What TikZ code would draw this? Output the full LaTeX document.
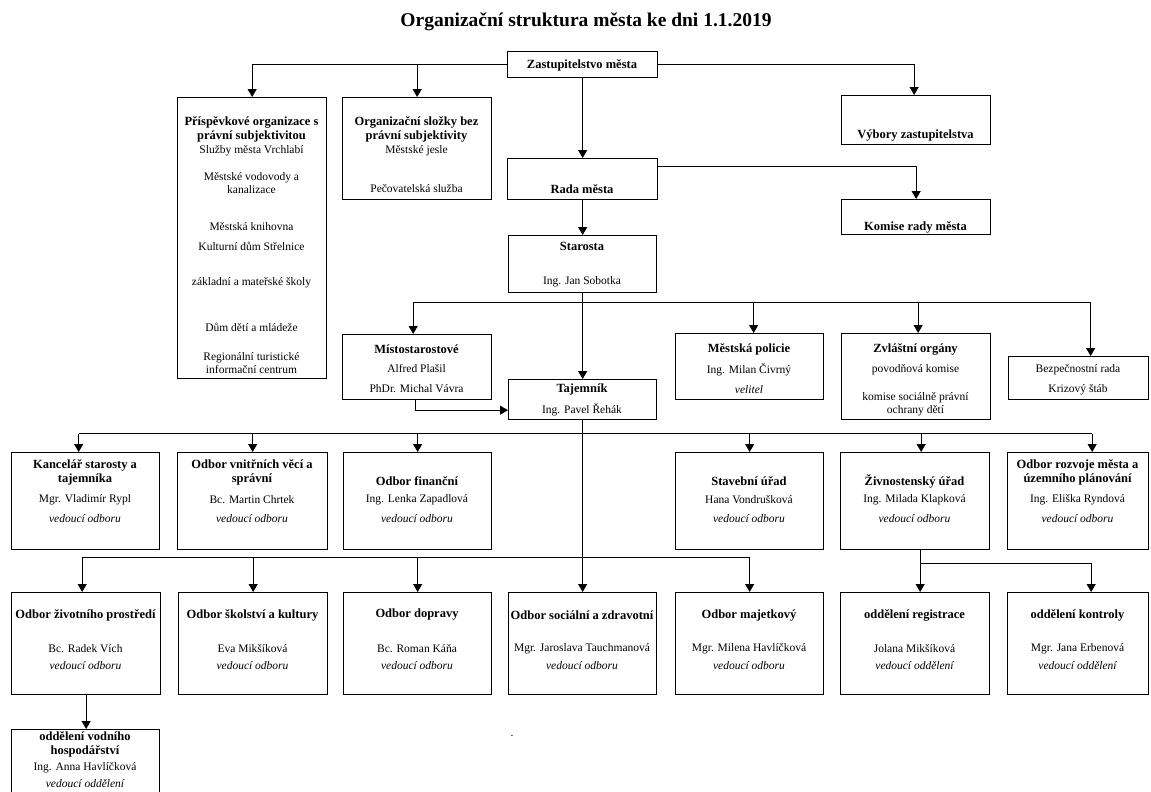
\documentclass[tikz,border=0pt]{standalone}
\usepackage{fontspec}
\setmainfont{Liberation Serif}
\usetikzlibrary{arrows.meta}
\tikzset{
  box/.style={draw, line width=1.3pt, anchor=north west, inner sep=0pt},
  ln/.style={line width=1.1pt},
  arr/.style={line width=1.1pt, -{Triangle[length=8pt,width=9pt]}},
  hd/.style={font=\fontsize{12.5}{14}\selectfont\bfseries, align=center, inner sep=0pt},
  tx/.style={font=\fontsize{11.5}{13}\selectfont, align=center, inner sep=0pt},
  it/.style={font=\fontsize{11.5}{13}\selectfont\itshape, align=center, inner sep=0pt},
  ttl/.style={font=\fontsize{19.5}{22}\selectfont\bfseries, inner sep=0pt},
}
\begin{document}
\begin{tikzpicture}[x=1pt,y=-1pt]
\useasboundingbox (0,0) rectangle (1151,792);
\clip (0,0) rectangle (1151,792);
\fill[white] (0,0) rectangle (1151,792);

\node[ttl] (title) at (586,22) {Organizační struktura města ke dni 1.1.2019};

% boxes
\node[box, minimum width=150pt, minimum height=26pt] (zast) at (507,51) {};
\node[box, minimum width=149pt, minimum height=281pt] (prisp) at (177,97) {};
\node[box, minimum width=149pt, minimum height=102pt] (org) at (342,97) {};
\node[box, minimum width=149pt, minimum height=49pt] (vybory) at (841,95) {};
\node[box, minimum width=150pt, minimum height=41pt] (rada) at (507,158) {};
\node[box, minimum width=149pt, minimum height=35pt] (komise) at (841,199) {};
\node[box, minimum width=148pt, minimum height=57pt] (starosta) at (508,235) {};
\node[box, minimum width=149pt, minimum height=65pt] (misto) at (342,334) {};
\node[box, minimum width=148pt, minimum height=66pt] (policie) at (675,333) {};
\node[box, minimum width=149pt, minimum height=86pt] (zvlast) at (841,333) {};
\node[box, minimum width=140pt, minimum height=43pt] (bezp) at (1008,356) {};
\node[box, minimum width=148pt, minimum height=40pt] (tajem) at (508,379) {};
% row 2
\node[box, minimum width=148pt, minimum height=97pt] (kanc) at (11,452) {};
\node[box, minimum width=150pt, minimum height=97pt] (vnitr) at (177,452) {};
\node[box, minimum width=148pt, minimum height=97pt] (fin) at (343,452) {};
\node[box, minimum width=148pt, minimum height=97pt] (stav) at (675,452) {};
\node[box, minimum width=149pt, minimum height=97pt] (zivn) at (840,452) {};
\node[box, minimum width=141pt, minimum height=97pt] (rozv) at (1007,452) {};
% row 3
\node[box, minimum width=149pt, minimum height=102pt] (ziv) at (11,592) {};
\node[box, minimum width=149pt, minimum height=102pt] (skol) at (178,592) {};
\node[box, minimum width=148pt, minimum height=102pt] (dopr) at (343,592) {};
\node[box, minimum width=148pt, minimum height=102pt] (soc) at (508,592) {};
\node[box, minimum width=148pt, minimum height=102pt] (maj) at (675,592) {};
\node[box, minimum width=149pt, minimum height=102pt] (reg) at (840,592) {};
\node[box, minimum width=141pt, minimum height=102pt] (kontr) at (1007,592) {};
% row 4
\node[box, minimum width=148pt, minimum height=80pt] (vod) at (11,729) {};

% texts
\node[hd] (t1) at (582,65) {Zastupitelstvo města};
\node[hd] (t2) at (251.5,129) {Příspěvkové organizace s\\právní subjektivitou};
\node[tx] (t3) at (251.5,151) {Služby města Vrchlabí};
\node[tx] (t4) at (251.5,183.5) {Městské vodovody a\\kanalizace};
\node[tx] (t5) at (251.5,227) {Městská knihovna};
\node[tx] (t6) at (251.5,246) {Kulturní dům Střelnice};
\node[tx] (t7) at (251.5,283) {základní a mateřské školy};
\node[tx] (t8) at (251.5,327) {Dům dětí a mládeže};
\node[tx] (t9) at (251.5,363.5) {Regionální turistické\\informační centrum};
\node[hd] (t10) at (416.5,129) {Organizační složky bez\\právní subjektivity};
\node[tx] (t11) at (416.5,151) {Městské jesle};
\node[tx] (t12) at (416.5,189) {Pečovatelská služba};
\node[hd] (t13) at (915.5,136) {Výbory zastupitelstva};
\node[hd] (t14) at (582,189) {Rada města};
\node[hd] (t15) at (915.5,227) {Komise rady města};
\node[hd] (t16) at (582,246) {Starosta};
\node[tx] (t17) at (582,282) {Ing. Jan Sobotka};
\node[hd] (t18) at (416.5,349) {Místostarostové};
\node[tx] (t19) at (416.5,369) {Alfred Plašil};
\node[tx] (t20) at (416.5,389) {PhDr. Michal Vávra};
\node[hd] (t21) at (582,389) {Tajemník};
\node[tx] (t22) at (582,410) {Ing. Pavel Řehák};
\node[hd] (t23) at (749,349) {Městská policie};
\node[tx] (t24) at (749,370) {Ing. Milan Čivrný};
\node[it] (t25) at (749,390) {velitel};
\node[hd] (t26) at (915.5,349) {Zvláštní orgány};
\node[tx] (t27) at (915.5,370) {povodňová komise};
\node[tx] (t28) at (915.5,404.5) {komise sociálně právní\\ochrany dětí};
\node[tx] (t29) at (1078,370) {Bezpečnostní rada};
\node[tx] (t30) at (1078,390) {Krizový štáb};
% row 2 texts
\node[hd] (t31) at (85,472.5) {Kancelář starosty a\\tajemníka};
\node[tx] (t32) at (85,500) {Mgr. Vladimír Rypl};
\node[it] (t33) at (85,519) {vedoucí odboru};
\node[hd] (t34) at (252,472.5) {Odbor vnitřních věcí a\\správní};
\node[tx] (t35) at (252,500) {Bc. Martin Chrtek};
\node[it] (t36) at (252,519) {vedoucí odboru};
\node[hd] (t37) at (417,481) {Odbor finanční};
\node[tx] (t38) at (417,500) {Ing. Lenka Zapadlová};
\node[it] (t39) at (417,519) {vedoucí odboru};
\node[hd] (t40) at (749,481) {Stavební úřad};
\node[tx] (t41) at (749,500) {Hana Vondrušková};
\node[it] (t42) at (749,519) {vedoucí odboru};
\node[hd] (t43) at (914.5,481) {Živnostenský úřad};
\node[tx] (t44) at (914.5,500) {Ing. Milada Klapková};
\node[it] (t45) at (914.5,519) {vedoucí odboru};
\node[hd] (t46) at (1077.5,472.5) {Odbor rozvoje města a\\územního plánování};
\node[tx] (t47) at (1077.5,500) {Ing. Eliška Ryndová};
\node[it] (t48) at (1077.5,519) {vedoucí odboru};
% row 3 texts
\node[hd] (t49) at (85.5,615) {Odbor životního prostředí};
\node[tx] (t50) at (85.5,649) {Bc. Radek Vích};
\node[it] (t51) at (85.5,666) {vedoucí odboru};
\node[hd] (t52) at (252.5,615) {Odbor školství a kultury};
\node[tx] (t53) at (252.5,649) {Eva Mikšíková};
\node[it] (t54) at (252.5,666) {vedoucí odboru};
\node[hd] (t55) at (417,615) {Odbor dopravy};
\node[tx] (t56) at (417,649) {Bc. Roman Káňa};
\node[it] (t57) at (417,666) {vedoucí odboru};
\node[hd] (t58) at (582,615) {Odbor sociální a zdravotní};
\node[tx] (t59) at (582,649) {Mgr. Jaroslava Tauchmanová};
\node[it] (t60) at (582,666) {vedoucí odboru};
\node[hd] (t61) at (749,615) {Odbor majetkový};
\node[tx] (t62) at (749,649) {Mgr. Milena Havlíčková};
\node[it] (t63) at (749,666) {vedoucí odboru};
\node[hd] (t64) at (914.5,615) {oddělení registrace};
\node[tx] (t65) at (914.5,649) {Jolana Mikšíková};
\node[it] (t66) at (914.5,666) {vedoucí oddělení};
\node[hd] (t67) at (1077.5,615) {oddělení kontroly};
\node[tx] (t68) at (1077.5,649) {Mgr. Jana Erbenová};
\node[it] (t69) at (1077.5,666) {vedoucí oddělení};
% row 4 texts
\node[hd] (t70) at (85,744) {oddělení vodního\\hospodářství};
\node[tx] (t71) at (85,768) {Ing. Anna Havlíčková};
\node[it] (t72) at (85,784) {vedoucí oddělení};
\node[tx] (dot) at (512,736) {.};

% connector anchor points
\coordinate (zl) at ([yshift=0.5pt]zast.west);
\coordinate (zr) at ([yshift=0.5pt]zast.east);
\coordinate (vyb) at ([xshift=-2pt]vybory.north);
\coordinate (b1) at (582,302.5);
\coordinate (m1) at ([xshift=-4pt]misto.north);
\coordinate (p1) at ([xshift=4pt]policie.north);
\coordinate (z1) at ([xshift=2pt]zvlast.north);
\coordinate (bz1) at ([xshift=12pt]bezp.north);
\coordinate (b2) at (582,433.5);
\coordinate (k2) at ([xshift=-7pt]kanc.north);
\coordinate (zv2) at ([xshift=6pt]zivn.north);
\coordinate (r2) at ([xshift=14pt]rozv.north);
\coordinate (b3) at (582,557.5);
\coordinate (zi3) at ([xshift=-4pt]ziv.north);
\coordinate (b4) at (919.5,563.5);
\coordinate (ko) at ([xshift=13pt]kontr.north);

% connectors
\draw[ln] (zl) -- (zl -| prisp.north);
\draw[arr] (zl -| prisp.north) -- (prisp.north);
\draw[arr] (zl -| org.north) -- (org.north);
\draw[arr] (zr) -| (vyb);
\draw[arr] (zast.south) -- (rada.north);
\draw[arr] ([yshift=-8.5pt]rada.north east) -| (komise.north);
\draw[arr] (rada.south) -- (starosta.north);
\draw[arr] (starosta.south) -- (tajem.north);
\draw[ln] (b1 -| m1) -- (b1 -| bz1);
\draw[arr] (b1 -| m1) -- (m1);
\draw[arr] (b1 -| p1) -- (p1);
\draw[arr] (b1 -| z1) -- (z1);
\draw[arr] (b1 -| bz1) -- (bz1);
\draw[arr] ([xshift=-2pt]misto.south) |- ([yshift=-10.5pt]tajem.west);
\draw[arr] (tajem.south) -- (soc.north);
\draw[ln] (b2 -| k2) -- (b2 -| r2);
\draw[arr] (b2 -| k2) -- (k2);
\draw[arr] (b2 -| vnitr.north) -- (vnitr.north);
\draw[arr] (b2 -| fin.north) -- (fin.north);
\draw[arr] (b2 -| stav.north) -- (stav.north);
\draw[arr] (b2 -| zv2) -- (zv2);
\draw[arr] (b2 -| r2) -- (r2);
\draw[ln] (b3 -| zi3) -- (b3 -| maj.north);
\draw[arr] (b3 -| zi3) -- (zi3);
\draw[arr] (b3 -| skol.north) -- (skol.north);
\draw[arr] (b3 -| dopr.north) -- (dopr.north);
\draw[arr] (b3 -| maj.north) -- (maj.north);
\draw[arr] ([xshift=5pt]zivn.south) -- ([xshift=5pt]reg.north);
\draw[arr] (b4) -| (ko);
\draw[arr] (ziv.south) -- (ziv.south |- vod.north);
\end{tikzpicture}
\end{document}
